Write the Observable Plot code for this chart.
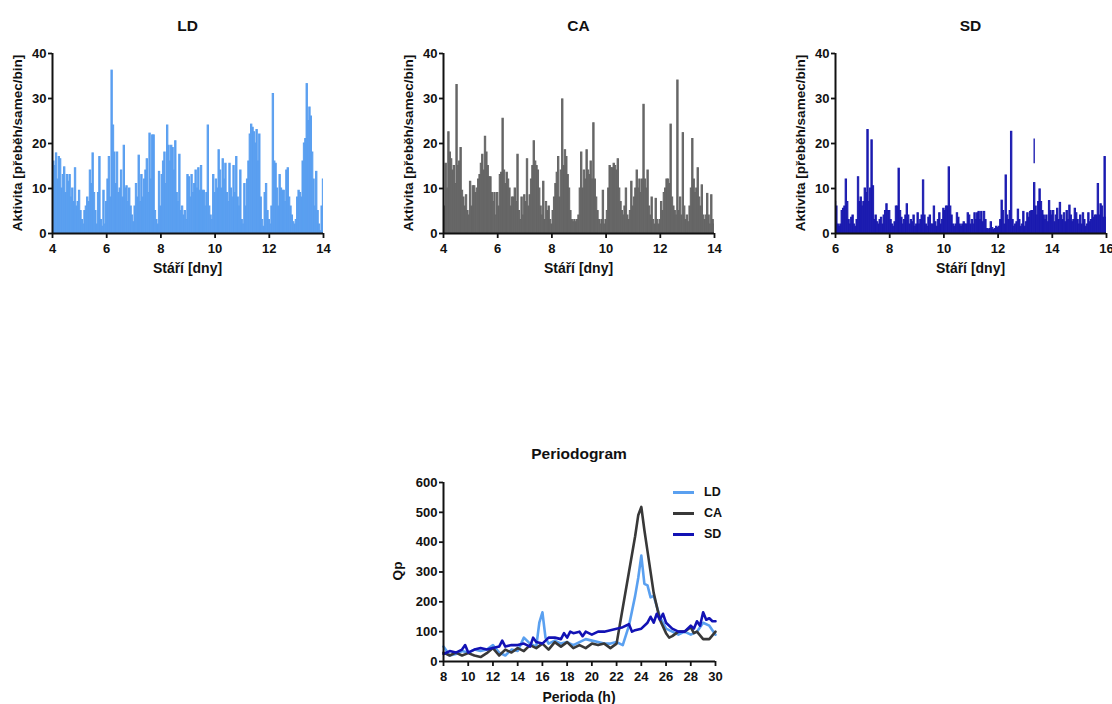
<!DOCTYPE html>
<html><head><meta charset="utf-8">
<script src="https://cdn.jsdelivr.net/npm/d3@7"></script>
<script src="https://cdn.jsdelivr.net/npm/@observablehq/plot@0.6"></script>
<style>
body{margin:0;background:#fff;font-family:"Liberation Sans",Arial,sans-serif;}
#root{position:relative;width:1112px;height:704px;overflow:hidden;background:#fff;}
.t{position:absolute;font-weight:bold;color:#111;white-space:nowrap;transform:translate(-50%,-50%);line-height:1;}
.title{font-size:15.5px;}
.xl{font-size:14px;}
.yl{font-size:13.5px;transform:translate(-50%,-50%) rotate(-90deg);}
.wrap{position:absolute;width:340px;}
.wrap svg{overflow:visible;max-width:none !important;}
.leg{position:absolute;font-weight:bold;font-size:12.5px;color:#111;display:flex;align-items:center;line-height:1;}
.leg span.sw{display:inline-block;width:21px;height:3px;margin-right:10px;}
</style></head><body><div id="root"></div>
<script>
// ---------- data ----------
const BIN = 0.05; // days per bin
const activityYTicks = [0, 10, 20, 30, 40];

// LD: bins from day 4.00 to 14.00
const ldStart = 4;
const ldValues = [
  4,16,15,17.8,12,17,16.5,10,13,14.7,9,13,11.5,13,8,10,7,14.5,6,7,
  9.5,5,3,2,5,6,8,7,14,11,17.8,9,5,2,9,17,3,1.5,9.5,2,
  7,12,17,8,36.2,24,18,11,18,9,10,14,8,19.5,10,10.5,7,10,6,4,
  2.5,6,11,8,17.3,7,13,8,12,14,16.5,9,22.2,12,21.8,21.8,5,3,2,13.7,
  6,13,16,18,11,24,19.5,16,19.5,19,14,20.5,9,7,17.5,5,6,4,5,3,
  13,12.5,8,13,9,11,14,10,14.5,9.5,15,9.5,9.5,6,9,24,6,4,3,13,
  9,12,10,18.5,14,10,16.5,12,15.5,9,7,15.5,10,8,15,9,17,8,6,14,
  3,2,11,6,12,16,22,24.2,23.5,22.5,20,23,16,22,8,3,1.5,9,11,5,
  3,2,6,31,16,15.5,10,6,13,10,9.5,9.5,7,14,14.5,8,6,4,2.5,2,
  3,8,9.5,9,8,16,20,21,33.2,25,28,26,18,12,6,13.7,5,2,0.5,6,
  12
];
const ldTicks = [4, 6, 8, 10, 12, 14];

// CA: bins from day 4.00 to 14.00
const caStart = 4;
const caValues = [
  2,6,15.5,10,22.5,18,16.5,14,15,11,33,15,16,19,9.5,8,6,8.5,5,4,
  11.5,6,10.5,10.5,9,10,12,13,15.5,17.5,14,21.5,18,15,12.5,12.5,9,7,9,4,
  9,6,13,13.5,25.5,14,11,13.5,12,10,6,8,8,10,7,17.5,5,3,8,4,
  8.5,7,16.5,6,8.5,12,15,20.5,16,15,14,10,6,4,11.5,3,7,5,6,3,
  2,5,8,11,13.5,17,8,14,29.8,15,18.5,17,13,10,5,3,2.5,3,2.5,3,
  4,10,18,10,14,12,18.5,14,13,16,12,24.5,12,8,5,3,2,3,9.5,2,
  3,5,10,15,14.5,14.5,15.5,15,14,16.5,10,7,5,4,6,10,4,3,5,11.5,
  6,8,10,14,10,12,9,12,28.6,12,10,14,6,4,8,3,2,7.7,3,2,
  3,7,5,9,10,12,12,11,24.2,8,6,5,4,34,5,8,4,22.3,6,3,
  4,2.5,6,10,21,12,9,10,14.5,8,6,10.7,4,3,4,8.8,4,2,8.5,3,
  2
];
const caTicks = [4, 6, 8, 10, 12, 14];

// SD: bins from day 6.00 to 16.00
const sdStart = 6;
const sdValues = [
  7,6,2,1.5,2,5,5.5,6,12,7,3,2,3.5,4,2,1.5,3,12.5,7,8,
  6,7,10,9,23,7,10,20.7,10.5,3,4,2.5,2,3,3.5,2,4,5,6.5,5,
  5,3,2,1.5,2.5,6,6,14.4,5,3.5,2,3,4,6.5,4,2,3,2.5,4,1.5,
  2,4.5,2,3,4,11.8,4,2,1.5,3.5,4,2,2,6,2.5,1.5,3,4.5,2,3,
  5.5,5,6,6,14.7,6,4,2,1.5,2,4.5,3.5,2,1.5,2,2.5,2,2,4.5,4,
  2,3,2,4.5,3,4.5,4.8,3,4.8,2.5,4.8,3,1,0.8,1,2.5,1.2,0.8,1,1.5,
  1.2,1.5,3,7.3,5,2,12.9,4,3,5,22.6,3,1.5,2,2.5,5.3,3,1.5,2,4.8,
  1.5,2.5,4.5,3.5,4.8,5,5,11.2,6,4,7,9.8,7,5,4,3,4,2.5,7.2,5,
  4,5,2.5,4,5.5,3,6.8,4,3,4.5,2.5,5,3,6.2,4,2.5,3,5.5,4.5,3,
  2,4,2,4.5,3,1.5,2,4.5,2.5,3,5,3.5,4,4,11,4,6.5,6,3.5,17,
  3.5
];
const sdTicks = [6, 8, 10, 12, 14, 16];
// detached segment in SD trace
const sdSegDay = [13.35];
const sdSegLow = [15.5];
const sdSegHigh = [21];

// Periodogram
const pgXTicks = [8,10,12,14,16,18,20,22,24,26,28,30];
const pgYTicks = [0,100,200,300,400,500,600];
const pgLdPeriod = [8,8.5,9,9.5,10,10.5,11,11.5,12,12.5,13,13.5,14,14.5,15,15.5,15.75,16,16.25,16.5,17,17.5,18,18.5,19,19.5,20,20.5,21,21.5,22,22.5,23,23.5,23.75,24,24.25,24.5,24.75,25,25.5,26,26.5,27,27.5,28,28.5,29,29.5,30];
const pgLdQp     = [50,20,25,35,30,40,35,40,55,30,20,40,35,80,60,50,130,165,80,60,70,60,65,55,65,75,70,65,60,60,65,55,120,220,280,355,260,255,215,220,150,110,100,90,100,90,100,130,120,90];
const pgCaPeriod = [8,8.5,9,9.5,10,10.5,11,11.5,12,12.5,13,13.5,14,14.5,15,15.5,16,16.5,17,17.5,18,18.5,19,19.5,20,20.5,21,21.5,22,22.5,23,23.5,23.75,24,24.25,24.5,25,25.5,26,26.25,26.5,27,27.5,28,28.25,28.5,29,29.5,30];
const pgCaQp     = [30,20,30,20,28,20,15,28,45,20,40,30,45,35,55,45,60,40,65,50,65,45,55,45,60,55,60,45,60,180,300,420,490,518,440,370,230,140,95,80,85,100,100,115,95,100,75,75,100];
const pgSdPeriod = [8,8.5,9,9.5,9.75,10,10.5,11,11.5,12,12.5,12.75,13,13.5,14,14.5,15,15.25,15.5,16,16.5,17,17.5,17.75,18,18.25,18.5,19,19.25,19.5,20,20.25,20.5,21,21.5,22,22.5,23,23.25,23.5,24,24.5,24.75,25,25.25,25.5,25.75,26,26.5,27,27.5,28,28.25,28.5,28.75,29,29.25,29.5,29.75,30];
const pgSdQp     = [25,35,30,40,55,30,40,45,40,45,50,70,50,55,55,60,50,80,65,60,80,80,75,95,80,100,95,100,85,100,90,95,100,100,105,110,115,125,100,105,110,130,150,130,160,140,160,130,110,100,100,120,110,135,120,165,140,145,135,135];
const seriesNames = ["LD", "CA", "SD"];
const colLD = "#5a9ff0", colCA = "#666666", colSD = "#1b1bb0";
const lineLD = "#5aa0f0", lineCA = "#383838", lineSD = "#1212b4";

// ---------- drawing ----------
const root = document.getElementById("root");
const FONT = "'Liberation Sans', Arial, sans-serif";
const INK = "#111";

function addText(cls, txt, x, y) {
  const d = document.createElement("div");
  d.className = "t " + cls;
  d.textContent = txt;
  d.style.left = x + "px";
  d.style.top = y + "px";
  root.appendChild(d);
}
function place(svg, left, top) {
  const w = document.createElement("div");
  w.className = "wrap";
  w.style.left = left + "px";
  w.style.top = top + "px";
  w.appendChild(svg);
  root.appendChild(w);
}

function activityPanel(values, start, color, ticks, left, title, extra) {
  const data = values.map((v, i) => ({day: start + i * BIN, v}));
  const dom = [ticks[0], ticks[ticks.length - 1]];
  const svg = Plot.plot({
    width: 340, height: 230,
    marginLeft: 52, marginRight: 17, marginTop: 23, marginBottom: 27,
    style: {fontFamily: FONT, fontSize: "13px", fontWeight: "bold", color: INK, background: "transparent", maxWidth: "none"},
    x: {domain: dom},
    y: {domain: [0, 40]},
    marks: [
      Plot.rectY(data, {x1: d => d.day - BIN / 2, x2: d => d.day + BIN / 2, y: "v", inset: 0, insetLeft: 0, insetRight: 0, fill: color, stroke: color, strokeWidth: 1, shapeRendering: "geometricPrecision", clip: true}),
      ...(extra || []),
      Plot.axisX({ticks, tickSize: 5, tickPadding: 5, strokeWidth: 1.8, stroke: INK, fill: INK, label: null}),
      Plot.axisY({ticks: activityYTicks, tickSize: 4, tickPadding: 2, strokeWidth: 1.8, stroke: INK, fill: INK, label: null}),
      Plot.ruleX([dom[0]], {stroke: INK, strokeWidth: 2}),
      Plot.ruleY([0], {stroke: INK, strokeWidth: 2})
    ]
  });
  place(svg, left, 30);
  const cx = left + 52 + 271 / 2;
  addText("title", title, cx, 26);
  addText("xl", "Stáří [dny]", cx, 268);
  addText("yl", "Aktivita [přeběh/samec/bin]", left + 18, 143);
}

activityPanel(ldValues, ldStart, colLD, ldTicks, 0, seriesNames[0]);
activityPanel(caValues, caStart, colCA, caTicks, 391, seriesNames[1]);
const segData = sdSegDay.map((d, i) => ({day: d, lo: sdSegLow[i], hi: sdSegHigh[i]}));
activityPanel(sdValues, sdStart, colSD, sdTicks, 783, seriesNames[2], [
  Plot.rectY(segData, {x1: d => d.day - BIN / 2, x2: d => d.day + BIN / 2, y1: "lo", y2: "hi", inset: 0, fill: colSD})
]);

// periodogram
const pg = [];
pgLdPeriod.forEach((p, i) => pg.push({s: "LD", p, q: pgLdQp[i]}));
pgCaPeriod.forEach((p, i) => pg.push({s: "CA", p, q: pgCaQp[i]}));
pgSdPeriod.forEach((p, i) => pg.push({s: "SD", p, q: pgSdQp[i]}));
const pgColors = {LD: lineLD, CA: lineCA, SD: lineSD};
const pgSvg = Plot.plot({
  width: 340, height: 216,
  marginLeft: 43, marginRight: 25, marginTop: 12, marginBottom: 25,
  style: {fontFamily: FONT, fontSize: "13px", fontWeight: "bold", color: INK, background: "transparent", maxWidth: "none"},
  x: {domain: [8, 30]},
  y: {domain: [0, 600]},
  marks: [
    ...seriesNames.map(s => Plot.line(pg.filter(d => d.s === s), {x: "p", y: "q", stroke: pgColors[s], strokeWidth: 2.6, strokeLinejoin: "round"})),
    Plot.axisX({ticks: pgXTicks, tickSize: 5, tickPadding: 5, strokeWidth: 1.8, stroke: INK, fill: INK, label: null}),
    Plot.axisY({ticks: pgYTicks, tickSize: 4, tickPadding: 2, strokeWidth: 1.8, stroke: INK, fill: INK, label: null}),
    Plot.ruleX([8], {stroke: INK, strokeWidth: 2}),
    Plot.ruleY([0], {stroke: INK, strokeWidth: 2})
  ]
});
place(pgSvg, 400, 470);
addText("title", "Periodogram", 579, 454);
addText("xl", "Perioda (h)", 579, 697);
addText("yl", "Qp", 398, 571);

// legend
seriesNames.forEach((s, i) => {
  const d = document.createElement("div");
  d.className = "leg";
  d.style.left = "673px";
  d.style.top = (486 + i * 21) + "px";
  const sw = document.createElement("span");
  sw.className = "sw";
  sw.style.background = pgColors[s];
  d.appendChild(sw);
  d.appendChild(document.createTextNode(s));
  root.appendChild(d);
});
</script></body></html>
